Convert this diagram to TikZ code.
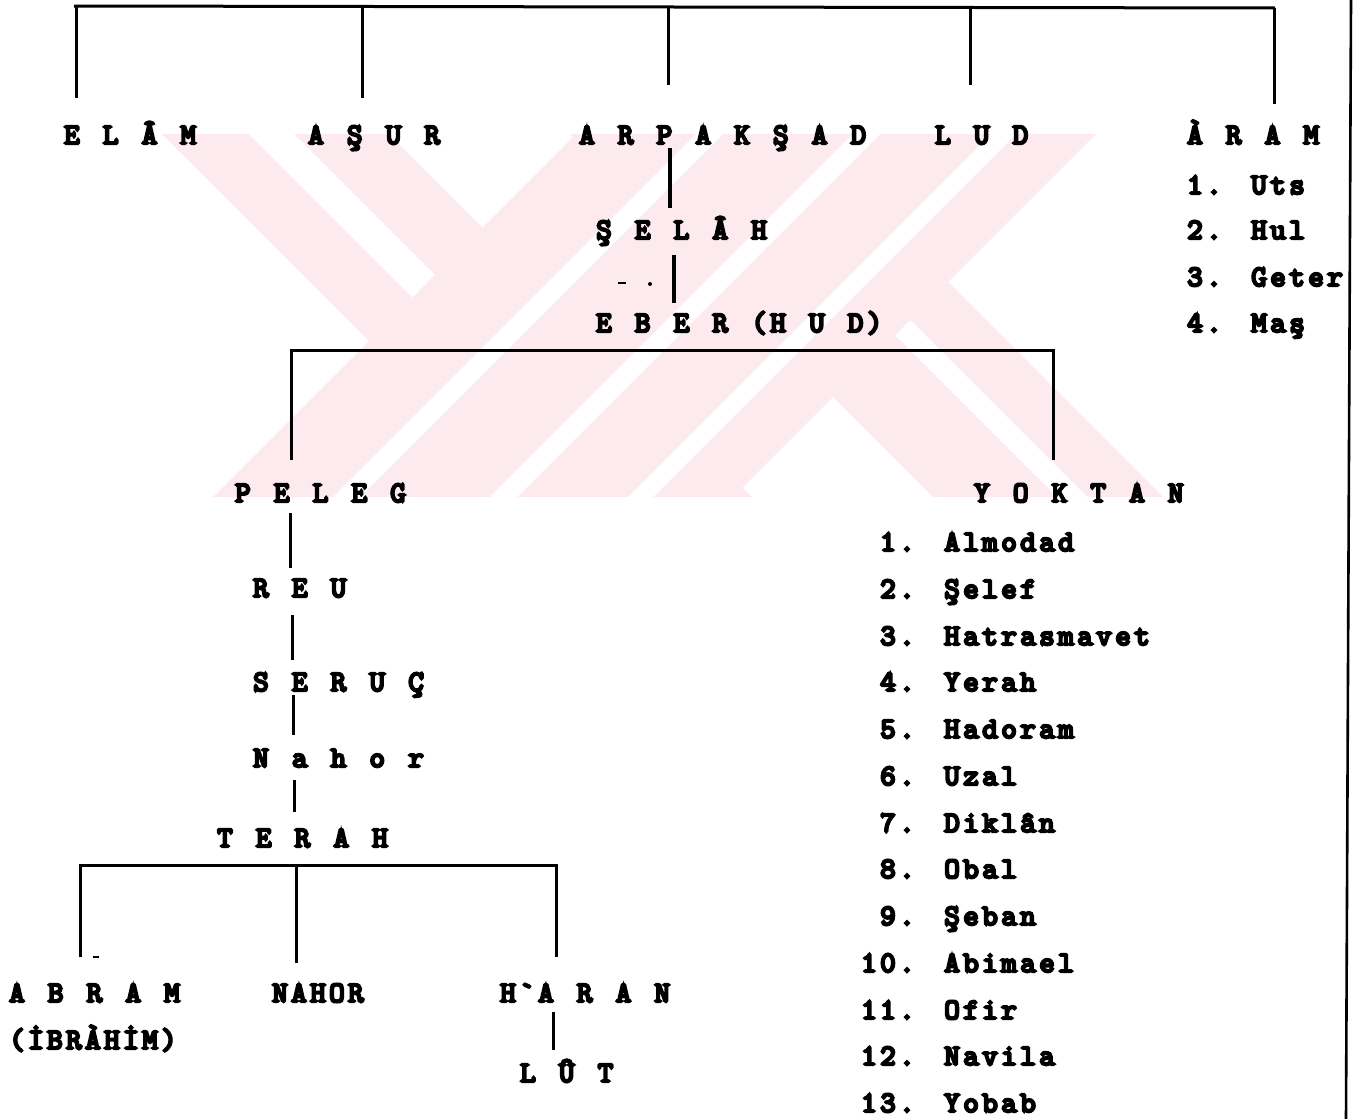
\documentclass[tikz,border=0pt]{standalone}
\usepackage{fontspec}
\newfontfamily\tw{lmmono10-regular.otf}[FakeBold=8,LetterSpace=11.9,WordSpace=1.226]
\definecolor{wmpink}{RGB}{253,234,238}
\tikzset{
  lbl/.style={font=\tw\fontsize{29.5}{30}\selectfont, inner sep=0pt, anchor=base west, text=black},
  ln/.style={line width=3pt, black},
  wm/.style={fill=wmpink},
  wmw/.style={fill=white}
}
\begin{document}
\begin{tikzpicture}[x=1pt,y=-1pt]
\useasboundingbox (0,0) rectangle (1361,1119);
% watermark
\begin{scope}
  \clip (0,134) rectangle (1361,496);
  \fill[wm]  (28,0) -- (255,0) -- (855,600) -- (628,600) -- cycle;
  \fill[wmw] (115,0) -- (160,0) -- (760,600) -- (715,600) -- cycle;
  \fill[wm]  (436,0) -- (666,0) -- (1266,600) -- (1036,600) -- cycle;
  \fill[wmw] (560,0) -- (590,0) -- (1190,600) -- (1160,600) -- cycle;
  \fill[wm]  (710,0) -- (1230,0) -- (630,600) -- (110,600) -- cycle;
  \fill[wmw] (830,0) -- (857,0) -- (257,600) -- (230,600) -- cycle;
  \fill[wmw] (987,0) -- (1014,0) -- (414,600) -- (387,600) -- cycle;
  \fill[wmw] (1125,0) -- (1150,0) -- (550,600) -- (525,600) -- cycle;
\end{scope}

% top generation
\node[lbl] (elam) at (64,144) {E L Â M};
\node[lbl] (asur) at (308,144) {A Ş U R};
\node[lbl] (arpa) at (579,144) {A R P A K Ş A D};
\node[lbl] (lud)  at (935,144) {L U D};
\node[lbl] (aram) at (1187,144) {À R A M};
\node[lbl] (aram1) at (1187,194) {1. Uts};
\node[lbl] (aram2) at (1187,239) {2. Hul};
\node[lbl] (aram3) at (1187,286) {3. Geter};
\node[lbl] (aram4) at (1187,332) {4. Maş};

\node[lbl] (selah) at (596,239) {Ş E L Â H};
\node[lbl] (eber)  at (596,332) {E B E R (H U D)};
\node[lbl] (peleg) at (235,502) {P E L E G};
\node[lbl] (yoktan) at (974,502) {Y O K T A N};

\node[lbl] (y1)  at (880,551)  {1. Almodad};
\node[lbl] (y2)  at (880,598)  {2. Şelef};
\node[lbl] (y3)  at (880,645)  {3. Hatrasmavet};
\node[lbl] (y4)  at (880,691)  {4. Yerah};
\node[lbl] (y5)  at (880,738)  {5. Hadoram};
\node[lbl] (y6)  at (880,785)  {6. Uzal};
\node[lbl] (y7)  at (880,832)  {7. Diklân};
\node[lbl] (y8)  at (880,878)  {8. Obal};
\node[lbl] (y9)  at (880,925)  {9. Şeban};
\node[lbl] (y10) at (861,972)  {10. Abimael};
\node[lbl] (y11) at (861,1019) {11. Ofir};
\node[lbl] (y12) at (861,1065) {12. Navila};
\node[lbl] (y13) at (861,1112) {13. Yobab};

\node[lbl] (reu)   at (253,597) {R E U};
\node[lbl] (seruc) at (253,691) {S E R U Ç};
\node[lbl] (nahor) at (253,767) {N a h o r};
\node[lbl] (terah) at (217,847) {T E R A H};

\node[lbl] (abram)   at (9,1002)   {A B R A M};
\node[lbl] (ibrahim) at (9,1049)   {(İBRÀHİM)};
\node[lbl] (nahorb)  at (272,1002) {NAHOR};
\node[lbl] (haran)   at (500,1002) {H\char96 A R A N};
\node[lbl] (lut)     at (520,1082) {L Û T};

% junction coordinates
\coordinate (busL) at (74,6);
\coordinate (busR) at (1275,8);
\coordinate (dElam) at (76,98);
\coordinate (dAsur) at (362,98);
\coordinate (dArpa) at (668,85);
\coordinate (dLud)  at (970,85);
\coordinate (dAram) at (1274,104);

\draw[ln] (busL) -- (busR);
\draw[ln] (dElam |- busL) -- (dElam);
\draw[ln] (dAsur |- busL) -- (dAsur);
\draw[ln] (dArpa |- busL) -- (dArpa);
\draw[ln] (dLud |- busL) -- (dLud);
\draw[ln] (dAram |- busR) -- (dAram);

\coordinate (s1a) at (670,148); \coordinate (s1b) at (670,208);
\coordinate (s2a) at (674,255); \coordinate (s2b) at (674,303);
\draw[line width=3.6pt] (s1a) -- (s1b);
\draw[line width=3.6pt] (s2a) -- (s2b);

\coordinate (ebL) at (291,350); \coordinate (ebR) at (1053,350);
\draw[ln] (291,460) -- (ebL) -- (ebR) -- (1053,460);

\draw[ln] (290,513) -- (290,568);
\draw[ln] (292,615) -- (292,660);
\draw[ln] (293,695) -- (293,735);
\draw[ln] (294,780) -- (294,812);

\coordinate (tbL) at (80,865); \coordinate (tbR) at (556,865);
\draw[ln] (80,957) -- (tbL) -- (tbR) -- (556,957);
\draw[ln] (296,865) -- (296,963);
\draw[ln] (553,1012) -- (553,1050);

% right border
\draw[line width=2.6pt] (1351,0) -- (1346,1119);

% specks
\draw[line width=2.5pt] (618,283) -- (626,283);
\fill (650,284) circle (2pt);
\draw[line width=2pt] (93,957) -- (99,957);
\end{tikzpicture}
\end{document}
